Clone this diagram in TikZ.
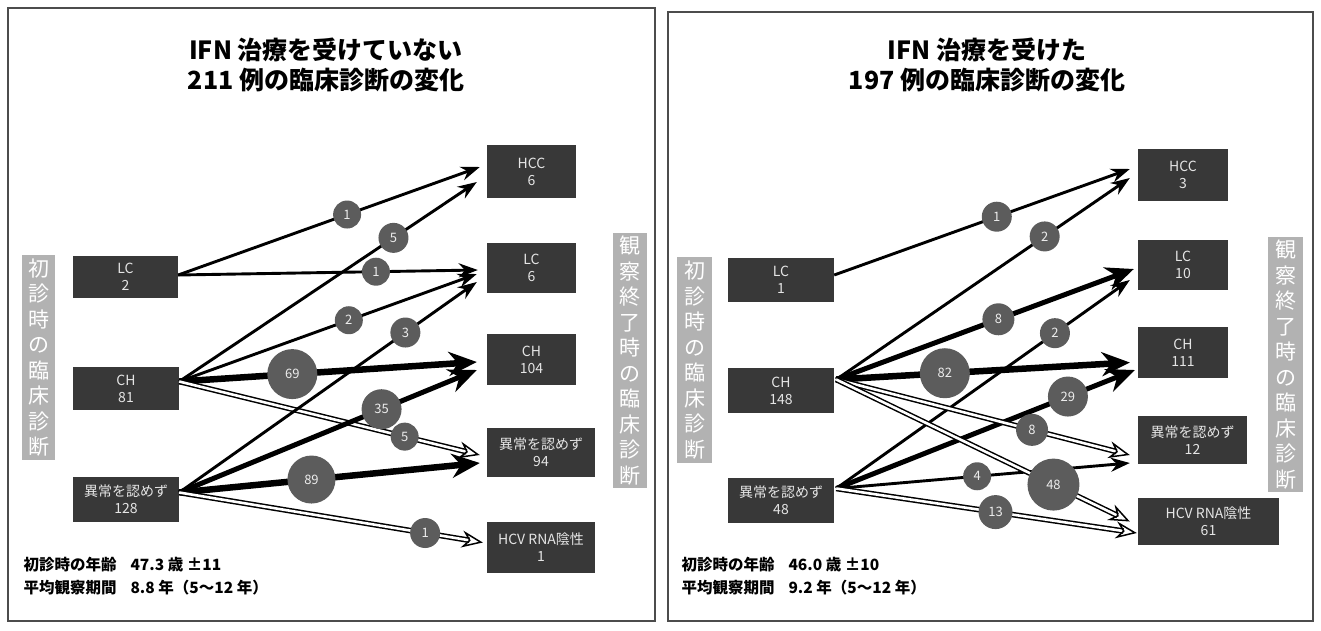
\documentclass[tikz,border=0pt]{standalone}
\usepackage{fontspec}
\setmainfont{Noto Sans CJK JP}
\usetikzlibrary{arrows.meta,calc}

\begin{document}
\begin{tikzpicture}[x=1pt, y=-1pt,
    frame/.style={draw=black!70, line width=1.6pt},
    title/.style={align=center, font=\fontsize{25}{30}\selectfont\bfseries},
    box/.style={shape=rectangle, fill=black!78, text=gray!20, align=center, inner sep=0pt, font=\fontsize{14}{17}\selectfont},
    vlabel/.style={shape=rectangle, fill=gray!60, text=white, align=center, inner sep=0pt, font=\fontsize{21}{25.5}\selectfont},
    num/.style={shape=circle, fill=black!64, text=gray!15, inner sep=0pt, font=\fontsize{13}{13}\selectfont},
    arr/.style={line width=2.9pt, -{Stealth[length=19pt, width=14pt]}},
    fatarr/.style={line width=6.5pt, -{Stealth[length=28pt, width=24pt]}},
    hollow/.style={double=white, line width=1.5pt, double distance=2.6pt, -{Stealth[open, length=21pt, width=17pt]}},
    note/.style={anchor=west, align=left, font=\fontsize{15.5}{23}\selectfont\bfseries},
]
\useasboundingbox (0,0) rectangle (1321,630);

\draw[frame] (8,8) rectangle (655,621);
\draw[frame] (668,12) rectangle (1313,621);

\node[title] (lTitle) at (326,65) {IFN 治療を受けていない\\211 例の臨床診断の変化};
\node[title] (rTitle) at (987,65) {IFN 治療を受けた\\197 例の臨床診断の変化};

% left panel
\node[vlabel, minimum width=33pt, minimum height=205pt] (lvIn) at (38.5,357.5) {初\\診\\時\\の\\臨\\床\\診\\断};
\node[vlabel, minimum width=34pt, minimum height=255pt] (lvOut) at (630,360.5) {観\\察\\終\\了\\時\\の\\臨\\床\\診\\断};

\node[box, minimum width=105pt, minimum height=42pt] (lsLC) at (125.5,277) {LC\\2};
\node[box, minimum width=106pt, minimum height=43pt] (lsCH) at (126,388.5) {CH\\81};
\node[box, minimum width=106pt, minimum height=45pt] (lsAb) at (126,499.5) {異常を認めず\\128};

\node[box, minimum width=89pt, minimum height=53pt] (ltHCC) at (531.5,171.5) {HCC\\6};
\node[box, minimum width=89pt, minimum height=50pt] (ltLC) at (531.5,268) {LC\\6};
\node[box, minimum width=89pt, minimum height=51pt] (ltCH) at (531.5,359.5) {CH\\104};
\node[box, minimum width=108pt, minimum height=49pt] (ltAb) at (541,452.5) {異常を認めず\\94};
\node[box, minimum width=108pt, minimum height=51pt] (ltHCV) at (541,547.5) {HCV RNA陰性\\1};

\draw[arr] ($(lsLC.east)+(0,-2)$) -- ($(ltHCC.west)+(-7,-4.5)$) node[num, minimum size=28pt, pos=0.56] (lc1) {1};
\draw[arr] ($(lsLC.east)+(0,-2)$) -- ($(ltLC.west)+(-9,2)$) node[num, minimum size=28pt, pos=0.66] (lc2) {1};
\draw[arr] ($(lsCH.east)+(0,-7)$) -- ($(ltHCC.west)+(-10,10.5)$) node[num, minimum size=30pt, pos=0.72] (lc3) {5};
\draw[arr] ($(lsCH.east)+(0,-7)$) -- ($(ltLC.west)+(-10,6)$) node[num, minimum size=28pt, pos=0.57] (lc4) {2};
\draw[fatarr] ($(lsCH.east)+(0,-7)$) -- ($(ltCH.west)+(-10,2.5)$) node[num, minimum size=50pt, pos=0.38] (lc5) {69};
\draw[hollow] ($(lsCH.east)+(0,-7)$) -- ($(ltAb.west)+(-7,2.5)$) node[num, minimum size=28pt, pos=0.75] (lc6) {5};
\draw[arr] ($(lsAb.east)+(0,-7)$) -- ($(ltLC.west)+(-10,14)$) node[num, minimum size=30pt, pos=0.76] (lc7) {3};
\draw[fatarr, line width=5pt] ($(lsAb.east)+(0,-7)$) -- ($(ltCH.west)+(-10,10.5)$) node[num, minimum size=40pt, pos=0.68] (lc8) {35};
\draw[fatarr] ($(lsAb.east)+(0,-7)$) -- ($(ltAb.west)+(-7,10.5)$) node[num, minimum size=48pt, pos=0.44] (lc9) {89};
\draw[hollow] ($(lsAb.east)+(0,-7)$) -- ($(ltHCV.west)+(-4,-5)$) node[num, minimum size=30pt, pos=0.81] (lc10) {1};

\node[note] (lNote) at (20,576) {初診時の年齢\hspace{14pt}47.3 歳 ±11\\平均観察期間\hspace{14pt}8.8 年（5〜12 年）};

% right panel
\node[vlabel, minimum width=35pt, minimum height=206pt] (rvIn) at (694.5,360) {初\\診\\時\\の\\臨\\床\\診\\断};
\node[vlabel, minimum width=35pt, minimum height=255pt] (rvOut) at (1285.5,364.5) {観\\察\\終\\了\\時\\の\\臨\\床\\診\\断};

\node[box, minimum width=106pt, minimum height=44pt] (rsLC) at (781,280) {LC\\1};
\node[box, minimum width=106pt, minimum height=45pt] (rsCH) at (781,390.5) {CH\\148};
\node[box, minimum width=106pt, minimum height=45pt] (rsAb) at (781,500.5) {異常を認めず\\48};

\node[box, minimum width=90pt, minimum height=52pt] (rtHCC) at (1183,175) {HCC\\3};
\node[box, minimum width=90pt, minimum height=50pt] (rtLC) at (1183,265) {LC\\10};
\node[box, minimum width=90pt, minimum height=51pt] (rtCH) at (1183,352.5) {CH\\111};
\node[box, minimum width=109pt, minimum height=48pt] (rtAb) at (1192.5,440) {異常を認めず\\12};
\node[box, minimum width=141pt, minimum height=47pt] (rtHCV) at (1208.5,521.5) {HCV RNA陰性\\61};

\draw[arr] ($(rsLC.east)+(0,-5)$) -- ($(rtHCC.west)+(-8,-6)$) node[num, minimum size=30pt, pos=0.55] (rc1) {1};
\draw[arr] ($(rsCH.east)+(2,-11)$) -- ($(rtHCC.west)+(-8,3)$) node[num, minimum size=30pt, pos=0.71] (rc2) {2};
\draw[fatarr, line width=5pt] ($(rsCH.east)+(2,-11)$) -- ($(rtLC.west)+(-4,4)$) node[num, minimum size=32pt, pos=0.545] (rc3) {8};
\draw[arr] ($(rsAb.east)+(2,-12)$) -- ($(rtLC.west)+(-8,15)$) node[num, minimum size=30pt, pos=0.745] (rc4) {2};
\draw[fatarr] ($(rsCH.east)+(2,-11)$) -- ($(rtCH.west)+(-8,10)$) node[num, minimum size=50pt, pos=0.37] (rc5) {82};
\draw[fatarr, line width=5pt] ($(rsAb.east)+(2,-12)$) -- ($(rtCH.west)+(-3,17.5)$) node[num, minimum size=40pt, pos=0.776] (rc6) {29};
\draw[hollow] ($(rsCH.east)+(2,-11)$) -- ($(rtAb.west)+(-8,15)$) node[num, minimum size=32pt, pos=0.667] (rc7) {8};
\draw[arr] ($(rsAb.east)+(2,-12)$) -- ($(rtAb.west)+(-8,23)$) node[num, minimum size=28pt, pos=0.48] (rc8) {4};
\draw[hollow] ($(rsCH.east)+(2,-11)$) -- ($(rtHCV.west)+(-8,0)$) node[num, minimum size=52pt, pos=0.74] (rc9) {48};
\draw[hollow] ($(rsAb.east)+(2,-12)$) -- ($(rtHCV.west)+(-1,11.5)$) node[num, minimum size=34pt, pos=0.53] (rc10) {13};

\node[note] (rNote) at (678,576) {初診時の年齢\hspace{14pt}46.0 歳 ±10\\平均観察期間\hspace{14pt}9.2 年（5〜12 年）};
\end{tikzpicture}
\end{document}
